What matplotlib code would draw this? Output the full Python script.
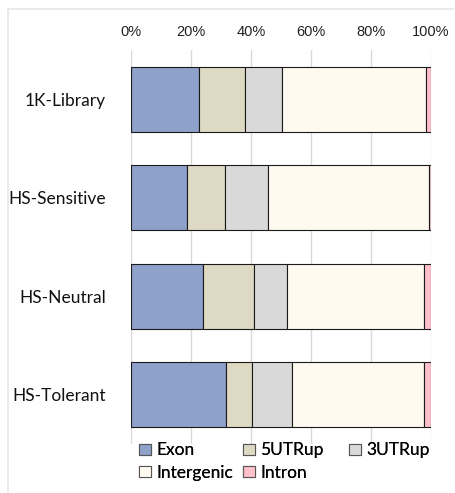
import matplotlib
matplotlib.use("Agg")
import matplotlib.pyplot as plt
from matplotlib.patches import Patch
from matplotlib.lines import Line2D
import numpy as np

categories = ["1K-Library", "HS-Sensitive", "HS-Neutral", "HS-Tolerant"]
segments = ["Exon", "5UTRup", "3UTRup", "Intergenic", "Intron"]
exon = [22.8, 18.6, 23.9, 31.7]
utr5 = [15.1, 12.7, 17.2, 8.5]
utr3 = [12.3, 14.4, 10.8, 13.6]
intergenic = [48.0, 53.7, 45.9, 43.8]
intron = [1.8, 0.6, 2.2, 2.4]
colors = ["#8EA1CB", "#DDD9C3", "#D9D9D9", "#FEFAEF", "#FFC0CB"]
xticks = [0, 20, 40, 60, 80, 100]

label_font = ["Lato", "DejaVu Sans"]
tick_font = ["Liberation Sans", "DejaVu Sans"]

fig = plt.figure(figsize=(4.55, 4.93), dpi=100)
W, H = 455, 493
ax = fig.add_axes([131 / W, 1 - 444 / H, 300 / W, 394 / H])

series = [exon, utr5, utr3, intergenic, intron]
y = np.arange(len(categories))
left = np.zeros(len(categories))
for name, vals, c in zip(segments, series, colors):
    vals = np.array(vals)
    ax.barh(y, vals, left=left, height=0.66, color=c, edgecolor="#1a1a1a",
            linewidth=0.8, label=name, zorder=3)
    left += vals

ax.set_xlim(0, 100)
ax.set_ylim(3.5, -0.5)
ax.set_xticks(xticks)
ax.set_xticklabels([f"{t}%" for t in xticks], family=tick_font, fontsize=10.5)
ax.xaxis.tick_top()
ax.tick_params(axis="x", length=0, pad=8, colors="#222222")
ax.set_yticks(y)
ax.set_yticklabels(categories, family=label_font, fontsize=12.5)
ax.tick_params(axis="y", length=0, pad=18, colors="#111111")
ax.grid(axis="x", color="#D9D9D9", linewidth=1.0, zorder=0)
for s in ax.spines.values():
    s.set_visible(False)

# outer chart frame (left and top edges)
fig.add_artist(Line2D([8 / W, 8 / W], [0, 1 - 9 / H], transform=fig.transFigure,
                      color="#E6E6E6", linewidth=1.2))
fig.add_artist(Line2D([8 / W, 453 / W], [1 - 9 / H, 1 - 9 / H], transform=fig.transFigure,
                      color="#E6E6E6", linewidth=1.2))

# legend laid out as three columns: (Exon, Intergenic), (5UTRup, Intron), (3UTRup)
handles = [Patch(facecolor=c, edgecolor="#555555", linewidth=0.8) for c in colors]
columns = [([0, 3], 136), ([1, 4], 240), ([2], 346)]
for idx, x0 in columns:
    leg = fig.legend([handles[i] for i in idx], [segments[i] for i in idx],
                     loc="upper left", bbox_to_anchor=(x0 / W, 1 - 439 / H),
                     frameon=False, prop={"family": label_font, "size": 12.5},
                     handlelength=0.65, handleheight=0.65, handletextpad=0.3,
                     labelspacing=0.35, borderpad=0.2, borderaxespad=0)
    fig.add_artist(leg)

fig.savefig("out.png", dpi=100)
